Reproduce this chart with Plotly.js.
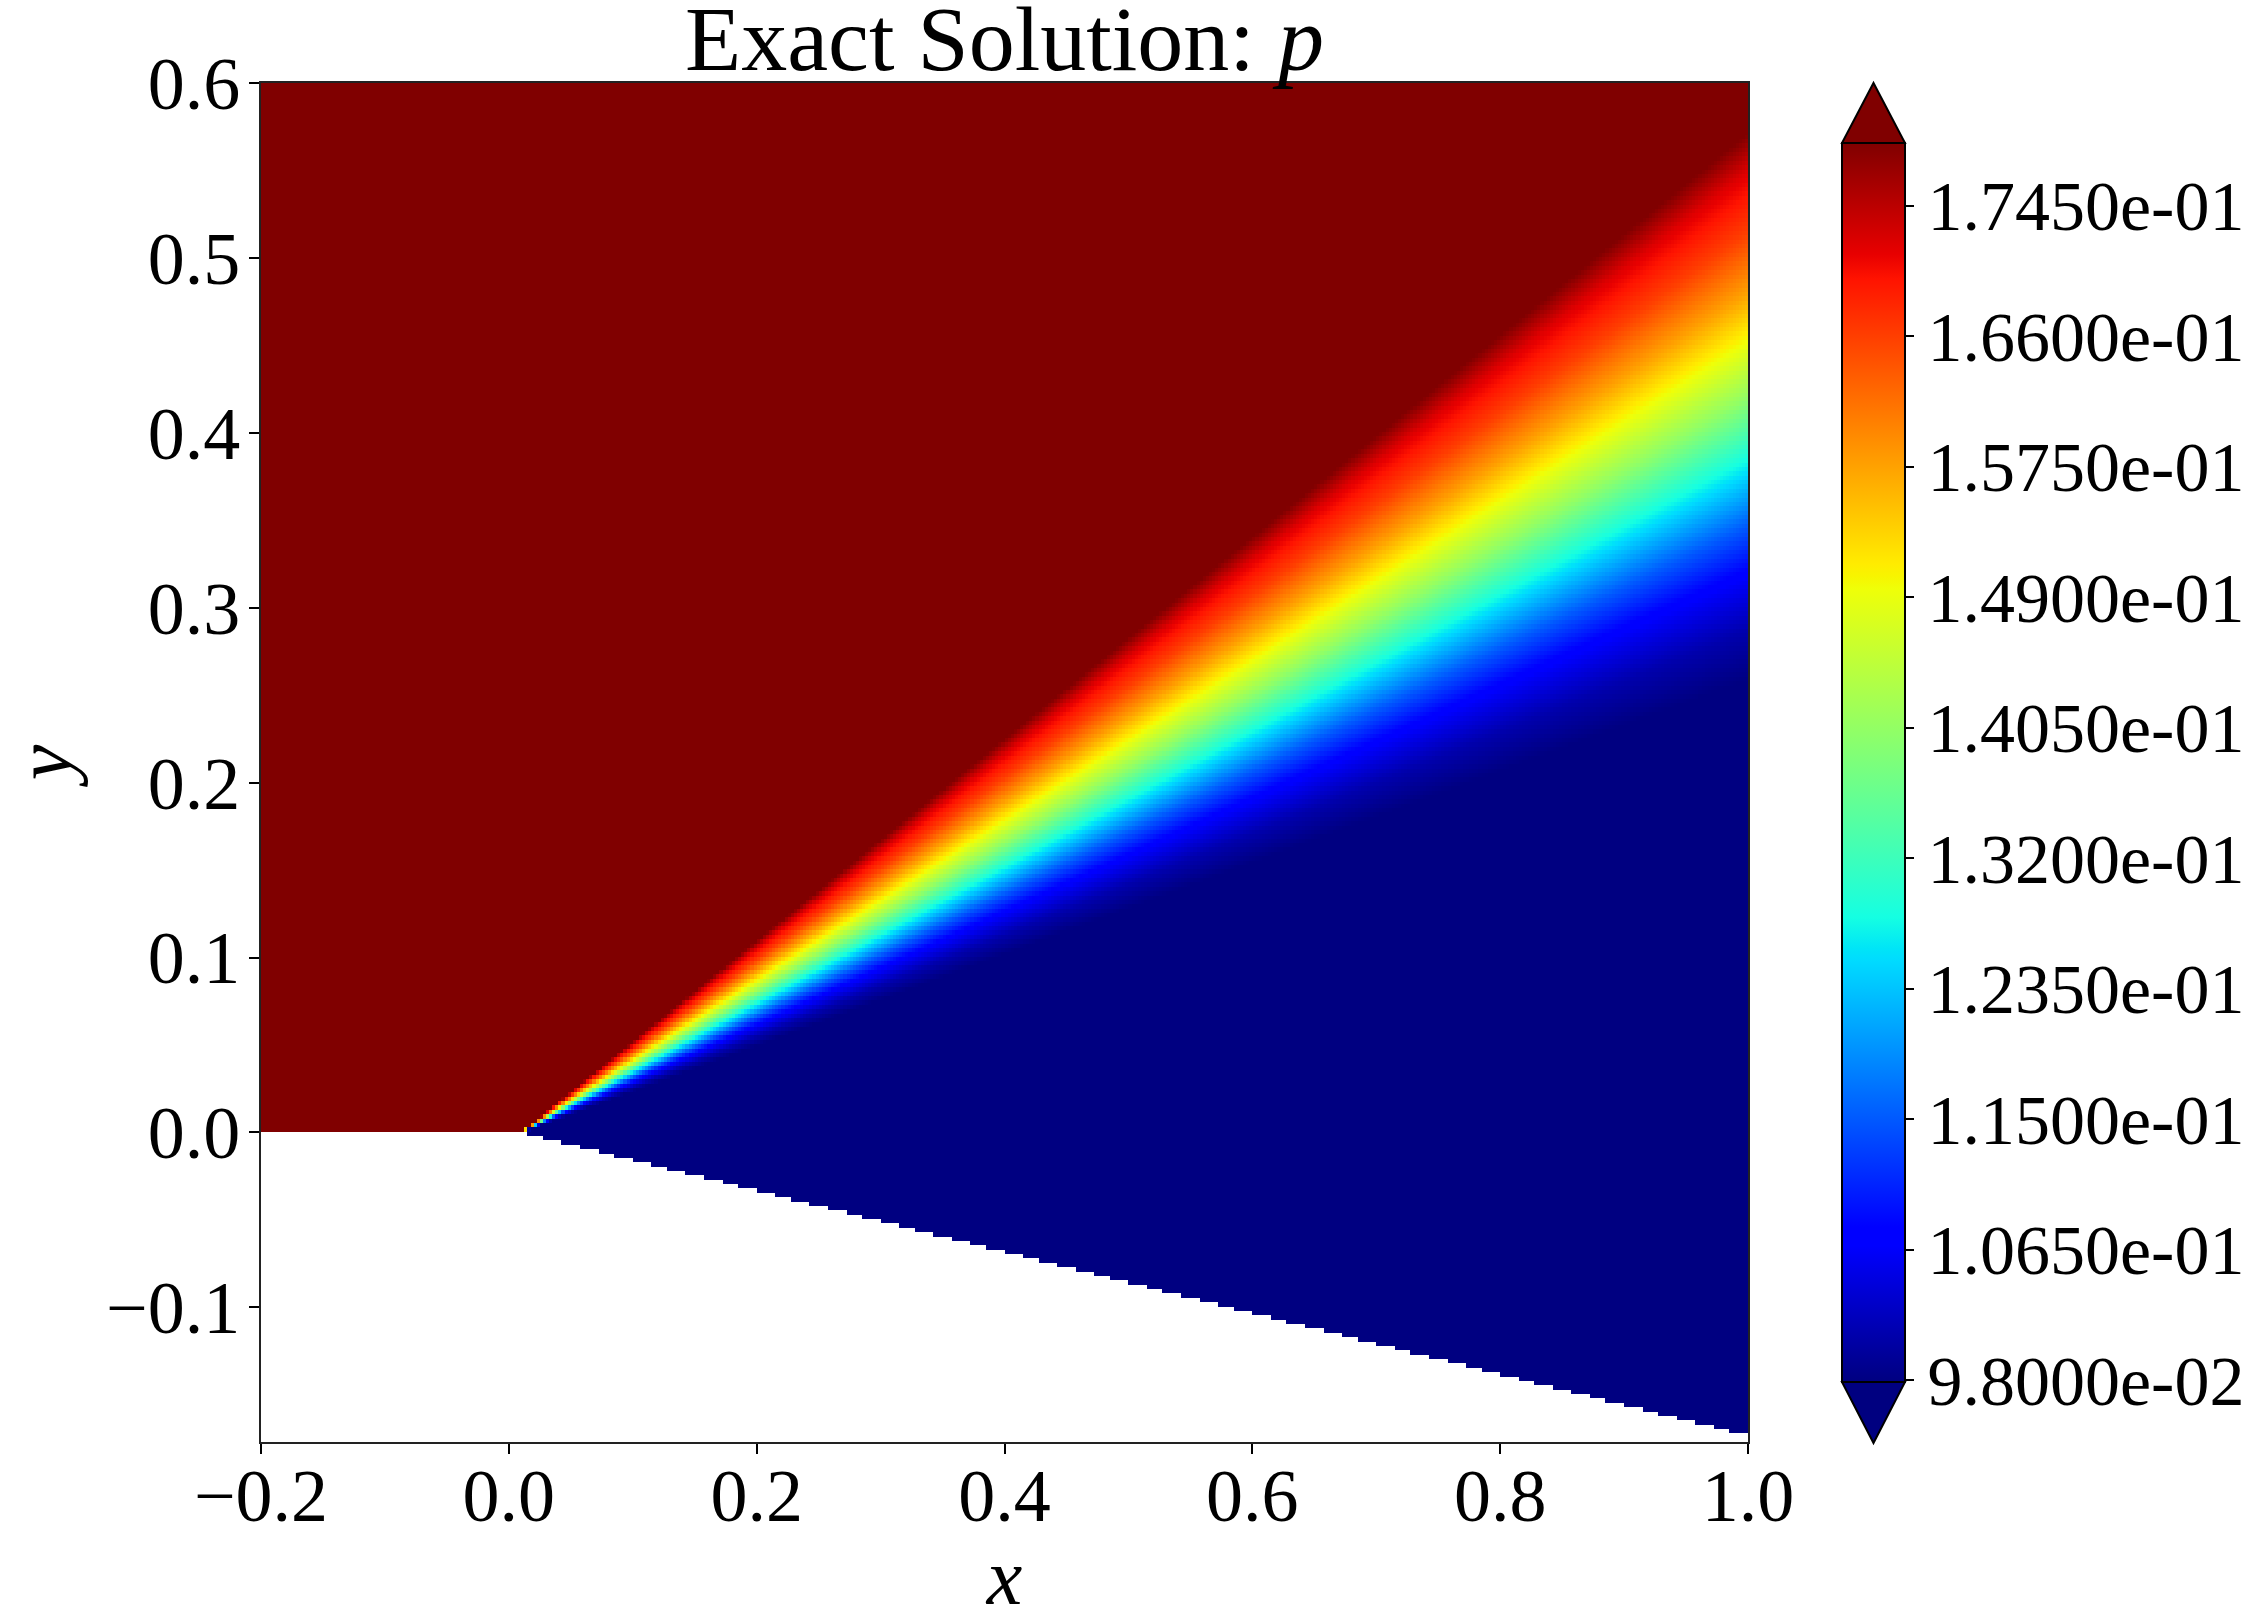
<!DOCTYPE html>
<html><head><meta charset="utf-8">
<script src="https://cdn.plot.ly/plotly-3.0.1.min.js"></script>
<style>body{margin:0;background:#fff}</style>
</head><body><div id="plot" style="width:2247px;height:1621px"></div>
<script>
// ---- Domain geometry ----
const cornerX = 0.01;        // x of the expansion corner on y = 0
const wallSlope = -0.175;    // downstream wall slope dy/dx
const xRange = [-0.2, 1.0];
const yRange = [-0.177, 0.6];

// ---- Pressure through the expansion fan vs ray slope y/(x - cornerX), read along x = 1 ----
const fanSlope = [0.262, 0.29, 0.32, 0.35, 0.375, 0.40, 0.425, 0.455, 0.485, 0.52, 0.555, 0.577];
const fanP     = [0.098, 0.101, 0.1065, 0.115, 0.1235, 0.132, 0.1405, 0.149, 0.1575, 0.166, 0.172, 0.1786];
const pUpstream = 0.1786;
const pDownstream = 0.098;

// ---- Colour bar ----
const cbMin = 0.0979, cbMax = 0.1786;
const cbTicks = [0.098, 0.1065, 0.115, 0.1235, 0.132, 0.1405, 0.149, 0.1575, 0.166, 0.1745];
const cbTickText = ["9.8000e-02","1.0650e-01","1.1500e-01","1.2350e-01","1.3200e-01",
                    "1.4050e-01","1.4900e-01","1.5750e-01","1.6600e-01","1.7450e-01"];

// ---- Axis ticks ----
const xTicks = [-0.2, 0.0, 0.2, 0.4, 0.6, 0.8, 1.0];
const xTickText = ["\u22120.2","0.0","0.2","0.4","0.6","0.8","1.0"];
const yTicks = [-0.1, 0.0, 0.1, 0.2, 0.3, 0.4, 0.5, 0.6];
const yTickText = ["\u22120.1","0.0","0.1","0.2","0.3","0.4","0.5","0.6"];

// matplotlib "jet"
const jet = [
  [0.0,'rgb(0,0,128)'],[0.11,'rgb(0,0,255)'],[0.125,'rgb(0,0,255)'],
  [0.34,'rgb(0,219,255)'],[0.35,'rgb(0,229,247)'],[0.375,'rgb(21,255,226)'],
  [0.64,'rgb(239,255,8)'],[0.65,'rgb(247,245,0)'],[0.66,'rgb(255,236,0)'],
  [0.89,'rgb(255,19,0)'],[0.91,'rgb(232,0,0)'],[1.0,'rgb(128,0,0)']
];

// ---- Build the grid table the heatmap needs ----
function fanLookup(s){
  if (s >= fanSlope[fanSlope.length-1]) return pUpstream;
  if (s <= fanSlope[0]) return pDownstream;
  for (let k=1;k<fanSlope.length;k++){
    if (s <= fanSlope[k]){
      const t=(s-fanSlope[k-1])/(fanSlope[k]-fanSlope[k-1]);
      return fanP[k-1]+t*(fanP[k]-fanP[k-1]);
    }
  }
  return pUpstream;
}
const step = 0.0025;
const gx = [], gy = [];
for (let v = xRange[0]+step/2; v < xRange[1]; v += step) gx.push(+v.toFixed(6));
for (let v = yRange[0]+step/2; v < yRange[1]; v += step) gy.push(+v.toFixed(6));
const gz = gy.map(y => gx.map(x => {
  if (x <= cornerX) return (y >= 0) ? pUpstream : null;
  const dx = x - cornerX;
  if (y < wallSlope*dx) return null;
  return fanLookup(y/dx);
}));

const W=2247,H=1621, L=261, R=1748, T=83, B=1442;
const pw=R-L, ph=B-T;
const px = v => (v-L)/pw, py = v => (B-v)/ph;
const cbL=1842, cbR=1905, cbTop=143, cbBot=1382;
const serif = "Liberation Serif, Times New Roman, serif";

const trace = {
  type:'heatmap', x:gx, y:gy, z:gz, zmin:cbMin, zmax:cbMax, colorscale:jet,
  zsmooth:false, hoverinfo:'skip',
  colorbar:{
    x:px(cbL), xanchor:'left', xpad:0, ypad:0,
    y:py((cbTop+cbBot)/2), yanchor:'middle',
    len:cbBot-cbTop, lenmode:'pixels', thickness:cbR-cbL, thicknessmode:'pixels',
    outlinewidth:2, outlinecolor:'#000',
    tickmode:'array', tickvals:cbTicks, ticktext:cbTickText,
    ticks:'outside', ticklen:8, tickwidth:2, tickcolor:'#000', ticklabelstandoff:-3,
    tickfont:{family:serif, size:70, color:'#000'}
  }
};

const tri = (pts) => 'M' + pts.map(p => px(p[0]).toFixed(5)+','+py(p[1]).toFixed(5)).join(' L') + ' Z';
const layout = {
  width:W, height:H, margin:{l:L, r:W-R, t:T, b:H-B, pad:0, autoexpand:false},
  paper_bgcolor:'#fff', plot_bgcolor:'#fff', showlegend:false,
  title:{text:'Exact Solution: <i>p</i>', x:(L+R)/2/W, xanchor:'center', xref:'container',
         y:1-38/H, yanchor:'middle', yref:'container',
         font:{family:serif, size:92, color:'#000'}},
  xaxis:{range:xRange, tickmode:'array', tickvals:xTicks, ticktext:xTickText,
         ticks:'outside', ticklen:10, tickwidth:2, tickcolor:'#000', ticklabelstandoff:-22,
         showline:true, mirror:true, linewidth:2, linecolor:'#222',
         showgrid:false, zeroline:false,
         tickfont:{family:serif, size:74, color:'#000'},
         title:{text:'<i>x</i>', font:{family:serif, size:80, color:'#000'}, standoff:10}},
  yaxis:{range:yRange, tickmode:'array', tickvals:yTicks, ticktext:yTickText,
         ticks:'outside', ticklen:10, tickwidth:2, tickcolor:'#000', ticklabelstandoff:-6,
         showline:true, mirror:true, linewidth:2, linecolor:'#222',
         showgrid:false, zeroline:false,
         tickfont:{family:serif, size:74, color:'#000'},
         title:{text:'<i>y</i>', font:{family:serif, size:80, color:'#000'}, standoff:24}},
  shapes:[
    {type:'path', xref:'paper', yref:'paper', layer:'above',
     path:tri([[cbL,cbTop],[cbR,cbTop],[(cbL+cbR)/2,T]]),
     fillcolor:'rgb(128,0,0)', line:{color:'#000', width:2}},
    {type:'path', xref:'paper', yref:'paper', layer:'above',
     path:tri([[cbL,cbBot],[cbR,cbBot],[(cbL+cbR)/2,B+1]]),
     fillcolor:'rgb(0,0,128)', line:{color:'#000', width:2}}
  ]
};
Plotly.newPlot('plot',[trace],layout,{staticPlot:true, displayModeBar:false});
</script></body></html>
